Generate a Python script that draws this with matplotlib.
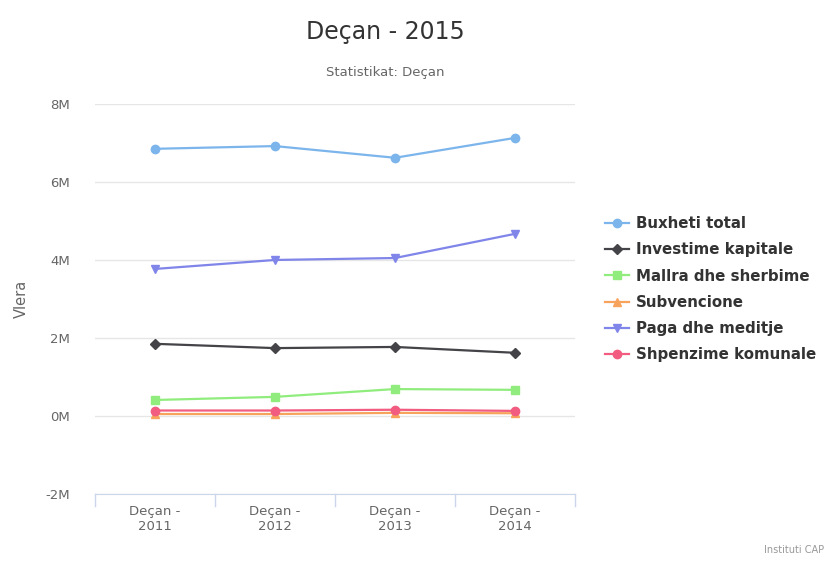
import matplotlib
matplotlib.use("Agg")
import matplotlib.pyplot as plt
from matplotlib.ticker import FuncFormatter

# Data (values in millions)
categories = ["Deçan -\n2011", "Deçan -\n2012", "Deçan -\n2013", "Deçan -\n2014"]
buxheti_total = [6.85, 6.92, 6.62, 7.13]
investime_kapitale = [1.85, 1.74, 1.77, 1.62]
mallra_dhe_sherbime = [0.41, 0.49, 0.69, 0.67]
subvencione = [0.05, 0.05, 0.08, 0.07]
paga_dhe_meditje = [3.77, 4.00, 4.05, 4.67]
shpenzime_komunale = [0.14, 0.14, 0.16, 0.13]

series = [
    ("Buxheti total", buxheti_total, "#7cb5ec", "o"),
    ("Investime kapitale", investime_kapitale, "#434348", "D"),
    ("Mallra dhe sherbime", mallra_dhe_sherbime, "#90ed7d", "s"),
    ("Subvencione", subvencione, "#f7a35c", "^"),
    ("Paga dhe meditje", paga_dhe_meditje, "#8085e9", "v"),
    ("Shpenzime komunale", shpenzime_komunale, "#f15c80", "o"),
]

fig = plt.figure(figsize=(8.37, 5.65), dpi=100)
ax = fig.add_axes([0.1135, 0.1257, 0.5735, 0.6903])

x = list(range(len(categories)))
for name, vals, color, marker in series:
    ms = 5 if marker == "D" else 6
    ax.plot(x, vals, color=color, lw=1.6, marker=marker, ms=ms, label=name,
            markeredgecolor=color)

ax.set_xlim(-0.5, len(categories) - 0.5)
ax.set_ylim(-2, 8)
ax.set_yticks([-2, 0, 2, 4, 6, 8])
ax.yaxis.set_major_formatter(FuncFormatter(lambda v, p: f"{int(v)}M"))
ax.set_xticks(x)
ax.set_xticklabels(categories, color="#666666", fontsize=9.5)
ax.tick_params(axis="x", length=0, pad=8)
ax.tick_params(axis="y", length=0, pad=18, labelcolor="#666666", labelsize=9.5)
ax.grid(axis="y", color="#e6e6e6", lw=1)
ax.set_axisbelow(True)
for s in ["top", "right", "left"]:
    ax.spines[s].set_visible(False)
ax.spines["bottom"].set_color("#ccd6eb")

# category boundary ticks on the x axis
for b in [i - 0.5 for i in range(len(categories) + 1)]:
    ax.plot([b, b], [0, -0.03], transform=ax.get_xaxis_transform(),
            color="#ccd6eb", lw=1, clip_on=False)

ax.set_ylabel("Vlera", color="#666666", fontsize=10.5, labelpad=12)

fig.text(0.46, 0.943, "Deçan - 2015", ha="center", va="center",
         fontsize=17, color="#333333")
fig.text(0.46, 0.871, "Statistikat: Deçan", ha="center", va="center",
         fontsize=9.5, color="#666666")
fig.text(0.985, 0.018, "Instituti CAP", ha="right", va="bottom",
         fontsize=7, color="#999999")

leg = ax.legend(loc="center left", bbox_to_anchor=(1.035, 0.525), frameon=False,
                prop={"weight": "bold", "size": 10.8}, handlelength=1.6,
                handletextpad=0.45, labelspacing=0.75)
for t in leg.get_texts():
    t.set_color("#333333")

fig.savefig("out.png", dpi=100)
